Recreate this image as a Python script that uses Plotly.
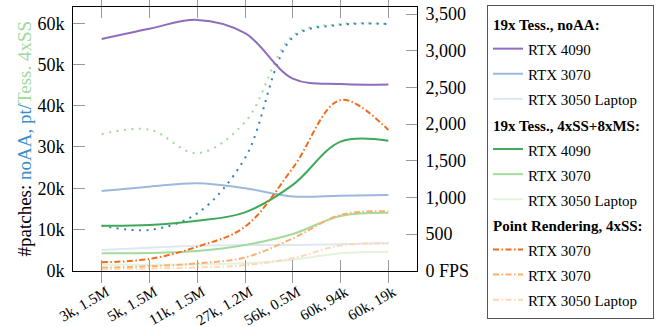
import plotly.graph_objects as go

categories = ["3k, 1.5M", "5k, 1.5M", "11k, 1.5M", "27k, 1.2M", "56k, 0.5M", "60k, 94k", "60k, 19k"]

# FPS (right axis)
noaa_4090 = [3160, 3300, 3420, 3240, 2620, 2545, 2540]
noaa_3070 = [1087, 1146, 1192, 1125, 1012, 1023, 1032]
noaa_3050 = [282, 314, 341, 350, 350, 360, 373]
ss_4090 = [614, 623, 680, 796, 1170, 1760, 1773]
ss_3070 = [237, 240, 268, 350, 500, 746, 791]
ss_3050 = [80, 80, 85, 100, 150, 237, 259]
pt_3070a = [115, 160, 327, 600, 1400, 2327, 1918]
pt_3070b = [40, 60, 100, 180, 440, 760, 810]
pt_3050 = [20, 30, 45, 75, 170, 345, 373]

# patches (left axis)
patches_noaa = [10900, 9900, 13900, 27300, 56500, 59600, 59800]
patches_pt = [33100, 34200, 28500, 36000, 57000, 59800, 59800]

left_ticks = [0, 10000, 20000, 30000, 40000, 50000, 60000]
left_text = ["0k", "10k", "20k", "30k", "40k", "50k", "60k"]
right_ticks = [0, 500, 1000, 1500, 2000, 2500, 3000, 3500]
right_text = ["0 FPS", "500", "1,000", "1,500", "2,000", "2,500", "3,000", "3,500"]

FONT = "Liberation Serif"
DASHDOT = "6px,2.5px,1.5px,2.5px"
DOT = "2px,5.5px"

W, H = 667, 327
ML, MR, MT, MB = 73, 250, 0, 0
GH = H - MT - MB
PLOT_TOP_PX, PLOT_BOT_PX = 6.7, 270.7
YDOM = [(H - MB - PLOT_BOT_PX) / GH, (H - MB - PLOT_TOP_PX) / GH]

fig = go.Figure()

def lbl(s):
    return '<span style="font-size:15px">' + s + '</span>'

def glbl(s):
    return '<span style="font-size:15px"><b>' + s + '</b></span>'

series = [
    ("g1", "19x Tess., noAA:", "RTX 4090", noaa_4090, "#8f6cbf", "solid"),
    ("g1", "19x Tess., noAA:", "RTX 3070", noaa_3070, "#9bb9dc", "solid"),
    ("g1", "19x Tess., noAA:", "RTX 3050 Laptop", noaa_3050, "#dde8f3", "solid"),
    ("g2", "19x Tess., 4xSS+8xMS:", "RTX 4090", ss_4090, "#3fa85a", "solid"),
    ("g2", "19x Tess., 4xSS+8xMS:", "RTX 3070", ss_3070, "#a3db9c", "solid"),
    ("g2", "19x Tess., 4xSS+8xMS:", "RTX 3050 Laptop", ss_3050, "#e3f3dc", "solid"),
    ("g3", "Point Rendering, 4xSS:", "RTX 3070", pt_3070a, "#f26b1d", DASHDOT),
    ("g3", "Point Rendering, 4xSS:", "RTX 3070", pt_3070b, "#fdae6b", DASHDOT),
    ("g3", "Point Rendering, 4xSS:", "RTX 3050 Laptop", pt_3050, "#fdd8b5", DASHDOT),
]

xs = list(range(len(categories)))

# patches dotted lines (left axis)
fig.add_trace(go.Scatter(x=xs, y=patches_pt, mode="lines", yaxis="y",
                         line=dict(color="#a1d99b", width=2, dash=DOT, shape="spline", smoothing=1),
                         showlegend=False))
fig.add_trace(go.Scatter(x=xs, y=patches_noaa, mode="lines", yaxis="y",
                         line=dict(color="#2f80c0", width=2, dash=DOT, shape="spline", smoothing=1),
                         showlegend=False))

for grp, gtitle, name, vals, col, dash in series:
    fig.add_trace(go.Scatter(
        x=xs, y=vals, mode="lines", yaxis="y2", name=lbl(name),
        legendgroup=grp, legendgrouptitle=dict(text=glbl(gtitle), font=dict(family=FONT, size=17, color="black")),
        line=dict(color=col, width=2, dash=dash, shape="spline", smoothing=1),
    ))

fig.update_layout(
    width=W, height=H,
    margin=dict(l=ML, r=MR, t=MT, b=MB, pad=0),
    paper_bgcolor="white", plot_bgcolor="white",
    font=dict(family=FONT, size=18, color="black"),
    xaxis=dict(
        range=[-0.6, 6.6], tickmode="array", tickvals=xs, ticktext=categories,
        tickangle=-30, tickfont=dict(size=15),
        ticks="inside", ticklen=11, tickcolor="#999", tickwidth=1.2,
        showline=True, linecolor="black", linewidth=1, mirror="allticks",
        showgrid=False, zeroline=False, anchor="y", automargin=False,
        ticklabelshift=5, ticklabelstandoff=6,
    ),
    yaxis=dict(
        domain=YDOM, automargin=False,
        range=[0, 64000], tickmode="array", tickvals=left_ticks, ticktext=left_text,
        ticks="inside", ticklen=12, tickcolor="#999", tickwidth=1.2,
        showline=True, linecolor="black", linewidth=1,
        showgrid=False, zeroline=False, ticklabelstandoff=4,
        title=dict(text='#patches: <span style="color:#3a8fcb">noAA, pt/</span><span style="color:#a1d99b">Tess. 4xSS</span>',
                   font=dict(size=19), standoff=0),
    ),
    yaxis2=dict(
        domain=YDOM, automargin=False,
        range=[0, 3600], overlaying="y", side="right", anchor="x",
        tickmode="array", tickvals=right_ticks, ticktext=right_text,
        ticks="inside", ticklen=11, tickcolor="#999", tickwidth=1.2,
        showline=True, linecolor="black", linewidth=1,
        showgrid=False, zeroline=False, ticklabelstandoff=4,
    ),
    legend=dict(
        x=(487 - ML) / (W - ML - MR), xanchor="left", y=(H - MB - 5) / GH, yanchor="top",
        bgcolor="white", bordercolor="#555", borderwidth=1,
        font=dict(family=FONT, size=17, color="black"),
        tracegroupgap=0, traceorder="grouped",
    ),
)

fig.write_html("out.html")
